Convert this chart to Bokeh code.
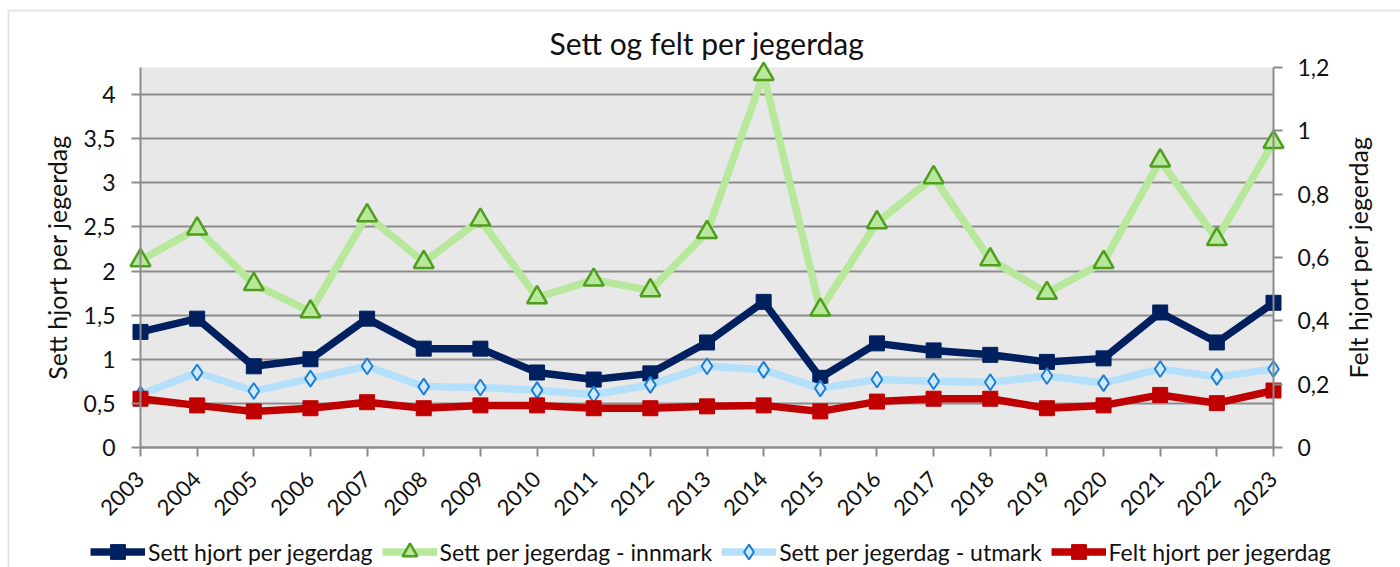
import math
from bokeh.plotting import figure
from bokeh.models import (Range1d, LinearAxis, FixedTicker, CustomJSTickFormatter,
                          Legend, LegendItem, ColumnDataSource, Label, BoxAnnotation)
from bokeh.embed import file_html
from bokeh.resources import INLINE

years = list(range(2003, 2024))
sett_hjort = [1.31, 1.46, 0.92, 1.00, 1.46, 1.12, 1.12, 0.85, 0.77, 0.84, 1.19,
              1.65, 0.79, 1.18, 1.10, 1.05, 0.97, 1.01, 1.53, 1.19, 1.64]
innmark = [2.12, 2.48, 1.85, 1.54, 2.63, 2.10, 2.58, 1.70, 1.90, 1.78, 2.44,
           4.23, 1.56, 2.55, 3.06, 2.13, 1.75, 2.10, 3.25, 2.36, 3.46]
utmark = [0.60, 0.85, 0.64, 0.78, 0.92, 0.69, 0.68, 0.65, 0.60, 0.71, 0.92,
          0.88, 0.67, 0.77, 0.75, 0.74, 0.81, 0.73, 0.89, 0.80, 0.89]
felt = [0.154, 0.133, 0.114, 0.124, 0.143, 0.124, 0.133, 0.133, 0.124, 0.124, 0.130,
        0.133, 0.114, 0.145, 0.154, 0.154, 0.124, 0.133, 0.166, 0.140, 0.180]

left_ticks = [0, 0.5, 1, 1.5, 2, 2.5, 3, 3.5, 4]
right_ticks = [0, 0.2, 0.4, 0.6, 0.8, 1.0, 1.2]
left_max = 4.306
right_max = 1.2

title_text = "Sett og felt per jegerdag"
left_label = "Sett hjort per jegerdag"
right_label = "Felt hjort per jegerdag"
names = ["Sett hjort per jegerdag", "Sett per jegerdag - innmark",
         "Sett per jegerdag - utmark", "Felt hjort per jegerdag"]

# layout (pixels)
W, H = 1400, 567
FL, FR, FT, FB = 140, 1273, 67, 447   # plot-area box inside the canvas

FONT = "Lato"
TXT = "#111111"
GRID = "#8c8c8c"

xs = (FR - FL) / (years[-1] - years[0])
ys = (FB - FT) / left_max
ysr = (FB - FT) / right_max
x_rng = Range1d(years[0] - FL / xs, years[-1] + (W - FR) / xs)
y_rng = Range1d(-(H - FB) / ys, left_max + FT / ys)
yr_rng = Range1d(-(H - FB) / ysr, right_max + FT / ysr)

src = ColumnDataSource(dict(year=years, sett=sett_hjort, inn=innmark, ut=utmark, felt=felt))

p = figure(width=W, height=H, output_backend="svg", toolbar_location=None,
           x_range=x_rng, y_range=y_rng,
           min_border_left=0, min_border_right=0, min_border_top=0, min_border_bottom=0,
           y_axis_location=None, x_axis_location=None)
p.extra_y_ranges = {"right": yr_rng}
p.background_fill_color = "white"
p.border_fill_color = "white"
p.outline_line_color = None

# plot-area background
p.quad(left=years[0], right=years[-1], bottom=0, top=left_max,
       fill_color="#e8e8e8", line_color=None, level="image")

# outer chart border
p.add_layout(BoxAnnotation(left=x_rng.start + 8 / xs, right=x_rng.end + 2,
                           top=y_rng.end - 10 / ys, bottom=y_rng.start - 2,
                           fill_alpha=0, line_color="#a6a6a6", line_width=2))

comma = CustomJSTickFormatter(code="return tick.toString().replace('.', ',');")

def style_axis(ax):
    ax.axis_line_color = GRID
    ax.axis_line_width = 2
    ax.major_tick_line_color = GRID
    ax.major_tick_line_width = 2
    ax.major_tick_out = 9
    ax.major_tick_in = 0
    ax.minor_tick_line_color = None
    ax.major_label_text_font = FONT
    ax.major_label_text_font_size = "23px"
    ax.major_label_text_color = TXT
    ax.axis_label_text_font = FONT
    ax.axis_label_text_font_size = "25px"
    ax.axis_label_text_font_style = "normal"
    ax.axis_label_text_color = TXT

yl = LinearAxis(ticker=FixedTicker(ticks=left_ticks), formatter=comma,
                axis_label=left_label, fixed_location=years[0], bounds=(0, left_max))
style_axis(yl)
yl.major_label_standoff = 16
yl.axis_label_standoff = 9
p.add_layout(yl, "left")

yr = LinearAxis(y_range_name="right", ticker=FixedTicker(ticks=right_ticks), formatter=comma,
                fixed_location=years[-1], bounds=(0, right_max))
style_axis(yr)
yr.major_label_standoff = 15
p.add_layout(yr, "right")

# right axis title, reading bottom-to-top like the left one
p.add_layout(Label(x=years[-1] + (1357 - FR) / xs, y=left_max / 2, text=right_label,
                   angle=math.pi / 2, text_align="center", text_baseline="middle",
                   text_font=FONT, text_font_size="25px", text_color=TXT))

xa = LinearAxis(ticker=FixedTicker(ticks=years), fixed_location=0,
                bounds=(years[0], years[-1]))
style_axis(xa)
xa.major_label_text_font_size = "22px"
xa.major_label_orientation = math.pi / 4
xa.major_label_standoff = 19
p.add_layout(xa, "below")

p.xgrid.visible = False
p.ygrid.ticker = FixedTicker(ticks=left_ticks)
p.ygrid.cross_bounds = (years[0], years[-1])
p.ygrid.grid_line_color = GRID
p.ygrid.grid_line_width = 2

# title
p.add_layout(Label(x=(years[0] + years[-1]) / 2, y=(FB - 42) / ys, text=title_text,
                   text_align="center", text_baseline="alphabetic",
                   text_font=FONT, text_font_size="30px", text_color=TXT))

# series
l1 = p.line("year", "sett", source=src, line_color="#002060", line_width=7.5)
m1 = p.scatter("year", "sett", source=src, marker="square", size=15,
               fill_color="#002060", line_color="#002060")
l2 = p.line("year", "inn", source=src, line_color="#b8e89c", line_width=7.5)
m2 = p.scatter("year", "inn", source=src, marker="triangle", size=20,
               fill_color="#b8e89c", line_color="#4f9e1e", line_width=2.5)
l3 = p.line("year", "ut", source=src, line_color="#b5e0fc", line_width=7.5)
m3 = p.scatter("year", "ut", source=src, marker="diamond", size=16,
               fill_color="#cdeafd", line_color="#1f7fd4", line_width=2)
l4 = p.line("year", "felt", source=src, line_color="#c00000", line_width=7.5,
            y_range_name="right")
m4 = p.scatter("year", "felt", source=src, marker="square", size=15,
               fill_color="#c00000", line_color="#c00000", y_range_name="right")

legend = Legend(items=[
    LegendItem(label=names[0], renderers=[l1, m1]),
    LegendItem(label=names[1], renderers=[l2, m2]),
    LegendItem(label=names[2], renderers=[l3, m3]),
    LegendItem(label=names[3], renderers=[l4, m4]),
], orientation="horizontal", location=(90, -3))
legend.glyph_width = 55
legend.glyph_height = 37
legend.label_standoff = 3
legend.spacing = 9
legend.padding = 0
legend.margin = 0
legend.border_line_color = None
legend.background_fill_alpha = 0
legend.label_text_font = FONT
legend.label_text_font_size = "23px"
legend.label_text_color = TXT
p.add_layout(legend, "center")

open("out.html", "w").write(file_html(p, INLINE))
